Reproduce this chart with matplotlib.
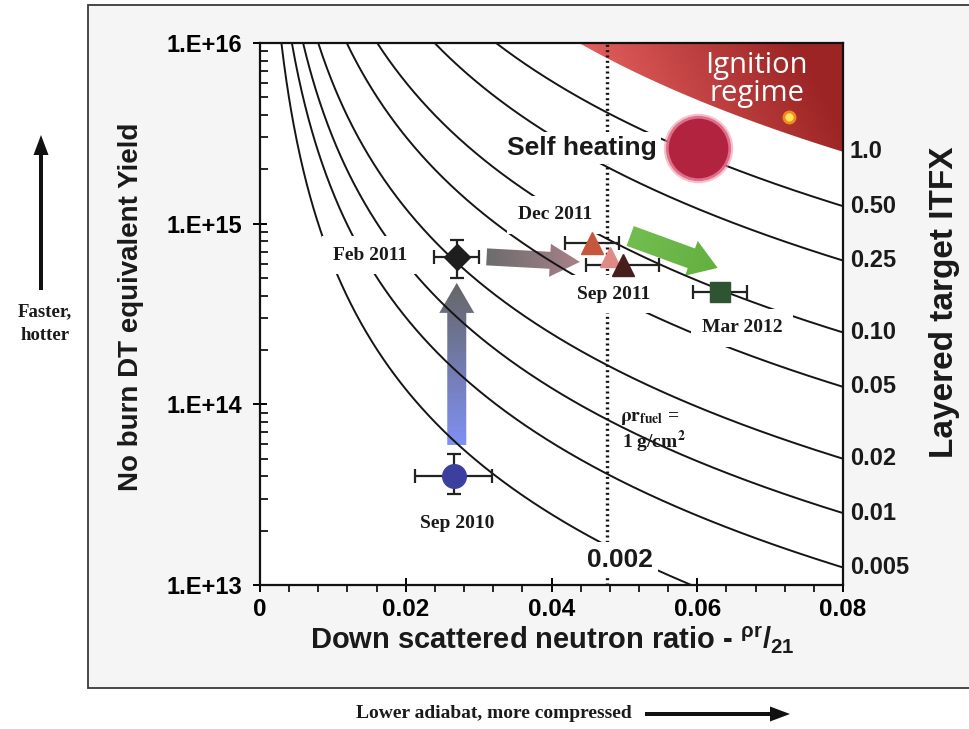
import numpy as np
import matplotlib
matplotlib.use('Agg')
import matplotlib.pyplot as plt
from matplotlib.patches import Polygon, FancyArrow, Rectangle
from matplotlib.transforms import IdentityTransform, blended_transform_factory
from matplotlib.colors import to_rgb

plt.rcParams['font.family'] = ['Liberation Sans', 'DejaVu Sans']
plt.rcParams['font.weight'] = 'bold'
plt.rcParams['mathtext.fontset'] = 'custom'
plt.rcParams['mathtext.rm'] = 'Liberation Sans:bold'
plt.rcParams['mathtext.it'] = 'Liberation Sans:bold'
plt.rcParams['mathtext.bf'] = 'Liberation Sans:bold'

W, H = 969, 729

# ---------------- data ----------------
itfx_levels = [0.002, 0.005, 0.01, 0.02, 0.05, 0.10, 0.25, 0.50]
ignition_itfx = 1.0
right_label_levels = [1.0, 0.50, 0.25, 0.10, 0.05, 0.02, 0.01, 0.005]
right_label_text = ['1.0', '0.50', '0.25', '0.10', '0.05', '0.02', '0.01', '0.005']
itfx_norm = 7.5e12          # ITFX = Y * dsr^exp / norm
itfx_exponent = 2.3
rho_r_one = 1.0 / 21.0      # dsr for rho-r = 1 g/cm^2

x_ticks = [0, 0.02, 0.04, 0.06, 0.08]
x_tick_labels = ['0', '0.02', '0.04', '0.06', '0.08']
y_ticks = [1e13, 1e14, 1e15, 1e16]
y_tick_labels = ['1.E+13', '1.E+14', '1.E+15', '1.E+16']

shot_labels = ['Sep 2010', 'Feb 2011', 'Dec 2011', '', 'Sep 2011', 'Mar 2012']
shot_dsr = [0.0266, 0.0270, 0.0455, 0.0480, 0.0498, 0.0631]
shot_yield = [4.0e13, 6.55e14, 7.8e14, 6.5e14, 5.9e14, 4.2e14]
shot_dsr_err = [0.0053, 0.0031, 0.0037, 0.0, 0.0050, 0.0037]
shot_yield_lo = [3.2e13, 5.0e14, 7.8e14, 6.5e14, 5.9e14, 4.2e14]
shot_yield_hi = [5.3e13, 8.1e14, 7.8e14, 6.5e14, 5.9e14, 4.2e14]
shot_markers = ['o', 'D', '^', '^', '^', 's']
shot_colors = ['#3b3f9e', '#1e1e1e', '#c4573c', '#e08a86', '#4a1d1d', '#2f5431']
shot_sizes = [17, 13, 16, 14, 16, 14]

label_dsr = [0.0270, 0.0151, 0.0405, 0.0485, 0.0662]
label_yield = [2.2e13, 6.7e14, 1.12e15, 4.08e14, 2.65e14]
label_names = ['Sep 2010', 'Feb 2011', 'Dec 2011', 'Sep 2011', 'Mar 2012']

self_heating_pt = (0.0601, 2.62e15)
ignition_sun_pt = (0.0726, 3.9e15)

# progress arrows (start, end) in data units
arrow_up = ((0.0270, 5.96e13), (0.0270, 4.7e14))
arrow_grey = ((0.0311, 6.55e14), (0.0439, 6.14e14))
arrow_green = ((0.0508, 8.55e14), (0.0628, 5.69e14))


def itfx_yield(level, x):
    return level * itfx_norm / np.power(x, itfx_exponent)


def itfx_dsr(level, y):
    return (level * itfx_norm / y) ** (1.0 / itfx_exponent)


# ---------------- figure ----------------
fig = plt.figure(figsize=(W / 100, H / 100), dpi=100)
fig.patch.set_facecolor('white')

frame = Rectangle((88 / W, 1 - 688 / H), (990 - 88) / W, (688 - 5) / H,
                  transform=fig.transFigure, fc='#f5f5f5', ec='#3a3a3a', lw=1.3, zorder=-5)
fig.patches.append(frame)

ax = fig.add_axes([260 / W, 1 - 585 / H, (843 - 260) / W, (585 - 43) / H])
ax.set_zorder(2)
ax.set_facecolor('white')
ax.set_yscale('log')
ax.set_xlim(0, 0.08)
ax.set_ylim(1e13, 1e16)
ax.set_autoscale_on(False)

for s in ax.spines.values():
    s.set_linewidth(1.6)
    s.set_color('#111111')

ax.set_xticks(x_ticks)
ax.set_xticklabels(x_tick_labels)
ax.set_xticks(np.arange(0, 0.0801, 0.004), minor=True)
ax.set_yticks(y_ticks)
ax.set_yticklabels(y_tick_labels)
ax.tick_params(axis='y', which='major', direction='inout', length=10, width=1.4,
               labelsize=17, pad=8)
ax.tick_params(axis='y', which='minor', direction='in', length=6, width=1.2)
ax.tick_params(axis='x', which='major', direction='inout', length=10, width=1.4,
               labelsize=17.5, pad=4)
ax.tick_params(axis='x', which='minor', direction='out', length=5, width=1.2)
for lab in ax.get_xticklabels() + ax.get_yticklabels():
    lab.set_fontweight('bold')

# ---- ignition regime (gradient) ----
x_top = itfx_dsr(ignition_itfx, 1e16)
xs = np.linspace(x_top, 0.08, 300)
ys = itfx_yield(ignition_itfx, xs)
poly_xy = np.column_stack([np.r_[xs, 0.08], np.r_[ys, 1e16]])
ign_poly = Polygon(poly_xy, closed=True, fc='none', ec='none', transform=ax.transData)
ax.add_patch(ign_poly)
gx, gy = np.meshgrid(np.linspace(0, 1, 300), np.linspace(0, 1, 100))
t = np.clip((gx - 0.55) / 0.45, 0, 1) ** 0.9
t = np.clip(t + 0.15 * (gy - 0.85) / 0.15, 0, 1)
c_light = np.array(to_rgb('#f36b6b'))
c_dark = np.array(to_rgb('#9c2424'))
img = c_light[None, None, :] * (1 - t[..., None]) + c_dark[None, None, :] * t[..., None]
im = ax.imshow(img, extent=[0, 1, 0, 1], origin='lower', transform=ax.transAxes,
               aspect='auto', zorder=1, interpolation='bilinear')
im.set_clip_path(ign_poly)

ax.text(0.852, 0.985, 'Ignition\nregime', transform=ax.transAxes, color='white',
        family=['Open Sans', 'DejaVu Sans'], weight='normal', fontsize=21,
        ha='center', va='top', linespacing=0.95, zorder=3)
ax.plot([ignition_sun_pt[0]], [ignition_sun_pt[1]], 'o', ms=8, mfc='#ffe45c',
        mec='#f08a1e', mew=2, zorder=3)


# ---- gradient arrows ----
def gradient_arrow(p0, p1, shaft_px, head_w_px, head_l_px, c0, c1, zorder):
    d0 = ax.transData.transform(p0)
    d1 = ax.transData.transform(p1)
    v = d1 - d0
    arrow = FancyArrow(d0[0], d0[1], v[0], v[1], width=shaft_px, head_width=head_w_px,
                       head_length=head_l_px, length_includes_head=True,
                       transform=IdentityTransform(), fc='none', ec='none')
    ax.add_patch(arrow)
    verts = arrow.get_xy()
    xmin, ymin = verts.min(axis=0) - 2
    xmax, ymax = verts.max(axis=0) + 2
    GX, GY = np.meshgrid(np.linspace(xmin, xmax, 200), np.linspace(ymin, ymax, 200))
    L2 = v[0] ** 2 + v[1] ** 2
    tt = np.clip(((GX - d0[0]) * v[0] + (GY - d0[1]) * v[1]) / L2, 0, 1)
    a = np.array(to_rgb(c0))
    b = np.array(to_rgb(c1))
    im2 = a[None, None, :] * (1 - tt[..., None]) + b[None, None, :] * tt[..., None]
    imh = ax.imshow(im2, extent=[xmin, xmax, ymin, ymax], origin='lower',
                    transform=IdentityTransform(), aspect='auto', zorder=zorder,
                    interpolation='bilinear')
    imh.set_clip_path(arrow)


gradient_arrow(arrow_up[0], arrow_up[1], 19, 35, 30, '#7f90f2', '#666666', 3)
gradient_arrow(arrow_grey[0], arrow_grey[1], 17, 33, 30, '#6c6c6c', '#a9818a', 3)
gradient_arrow(arrow_green[0], arrow_green[1], 21, 37, 28, '#72bd50', '#62b040', 3)
ax.set_xlim(0, 0.08)
ax.set_ylim(1e13, 1e16)

# ---- ITFX contours ----
for lvl in itfx_levels:
    x0 = itfx_dsr(lvl, 1e16)
    x1 = min(itfx_dsr(lvl, 1e13), 0.08)
    xx = np.linspace(x0, x1, 500)
    ax.plot(xx, itfx_yield(lvl, xx), color='#151515', lw=1.4, zorder=4)

# rho-r = 1 line
ax.plot([rho_r_one, rho_r_one], [1e13, 1e16], color='#111111', lw=2.4,
        linestyle=(0, (0.6, 1.0)), zorder=4)

# ---- self heating ----
for ms, col, al in [(50, '#ec8ea4', 0.55), (47, '#de6683', 0.9), (43, '#b1233e', 1.0)]:
    ax.plot([self_heating_pt[0]], [self_heating_pt[1]], 'o', ms=ms, mfc=col, mec='none',
            alpha=al, zorder=6)
ax.text(0.0545, 2.62e15, 'Self heating', ha='right', va='center', fontsize=19,
        weight='bold', color='#1a1a1a', zorder=5,
        bbox=dict(boxstyle='square,pad=0.15', fc='white', ec='none'))

# ---- shot labels ----
for nm, lx, ly in zip(label_names, label_dsr, label_yield):
    ax.text(lx, ly, nm, family=['Liberation Serif', 'DejaVu Serif'], weight='bold',
            fontsize=14, ha='center', va='center', color='#1a1a1a', zorder=5,
            bbox=dict(boxstyle='square,pad=0.55', fc='white', ec='none'))

ax.text(0.0494, 1.38e13, '0.002', fontsize=19, weight='bold', ha='center',
        va='center', color='#1a1a1a', zorder=5,
        bbox=dict(boxstyle='square,pad=0.2', fc='white', ec='none'))

ax.text(0.0494, 8.3e13, r'$\mathbf{\rho r_{fuel}}$ =', family=['Liberation Serif'],
        math_fontfamily='stix', weight='bold', fontsize=14, ha='left', va='center',
        color='#1a1a1a', zorder=5)
ax.text(0.0497, 6.2e13, r'1 g/cm$^\mathbf{2}$', family=['Liberation Serif'],
        math_fontfamily='stix', weight='bold', fontsize=14, ha='left', va='center',
        color='#1a1a1a', zorder=5)

# ---- shots ----
for i in range(len(shot_dsr)):
    ylo = shot_yield[i] - shot_yield_lo[i]
    yhi = shot_yield_hi[i] - shot_yield[i]
    if shot_dsr_err[i] > 0 or ylo > 0:
        ax.errorbar([shot_dsr[i]], [shot_yield[i]],
                    xerr=[shot_dsr_err[i]] if shot_dsr_err[i] > 0 else None,
                    yerr=[[ylo], [yhi]] if ylo > 0 else None,
                    fmt='none', ecolor='#222222', elinewidth=1.6, capsize=5,
                    capthick=1.6, zorder=6)
    ax.plot([shot_dsr[i]], [shot_yield[i]], marker=shot_markers[i], ms=shot_sizes[i],
            mfc=shot_colors[i], mec=shot_colors[i], linestyle='none', zorder=7)

# ---- right labels ----
btr = blended_transform_factory(ax.transAxes, ax.transData)
for lvl, txt in zip(right_label_levels, right_label_text):
    ax.text(1.012, itfx_yield(lvl, 0.08), txt, transform=btr, fontsize=17,
            weight='bold', ha='left', va='center', color='#1a1a1a', clip_on=False)

# ---- axis titles ----
fig.text(131 / W, 1 - 307 / H, 'No burn DT equivalent Yield', rotation=90, fontsize=20,
         weight='bold', ha='center', va='center', color='#1a1a1a')
fig.text(944 / W, 1 - 302 / H, 'Layered target ITFX', rotation=90, fontsize=24,
         weight='bold', ha='center', va='center', color='#1a1a1a')
fig.text(552 / W, 1 - 640 / H, r'Down scattered neutron ratio - $^{\rho r}/_{21}$',
         fontsize=21, weight='bold', ha='center', va='center', color='#1a1a1a')

# ---- annotations outside ----
fig.text(45 / W, 1 - 312 / H, 'Faster,', family=['Liberation Serif'], weight='bold',
         fontsize=13.5, ha='center', va='center', color='#1a1a1a')
fig.text(45 / W, 1 - 336 / H, 'hotter', family=['Liberation Serif'], weight='bold',
         fontsize=13.5, ha='center', va='center', color='#1a1a1a')
fig.add_artist(FancyArrow(41, H - 290, 0, 155, width=4, head_width=15, head_length=20,
                          length_includes_head=True, transform=IdentityTransform(),
                          fc='#111111', ec='none'))
fig.text(494 / W, 1 - 714 / H, 'Lower adiabat, more compressed',
         family=['Liberation Serif'], weight='bold', fontsize=14, ha='center',
         va='center', color='#1a1a1a')
fig.add_artist(FancyArrow(645, H - 714, 145, 0, width=4, head_width=15, head_length=20,
                          length_includes_head=True, transform=IdentityTransform(),
                          fc='#111111', ec='none'))

fig.savefig('out.png', dpi=100)
